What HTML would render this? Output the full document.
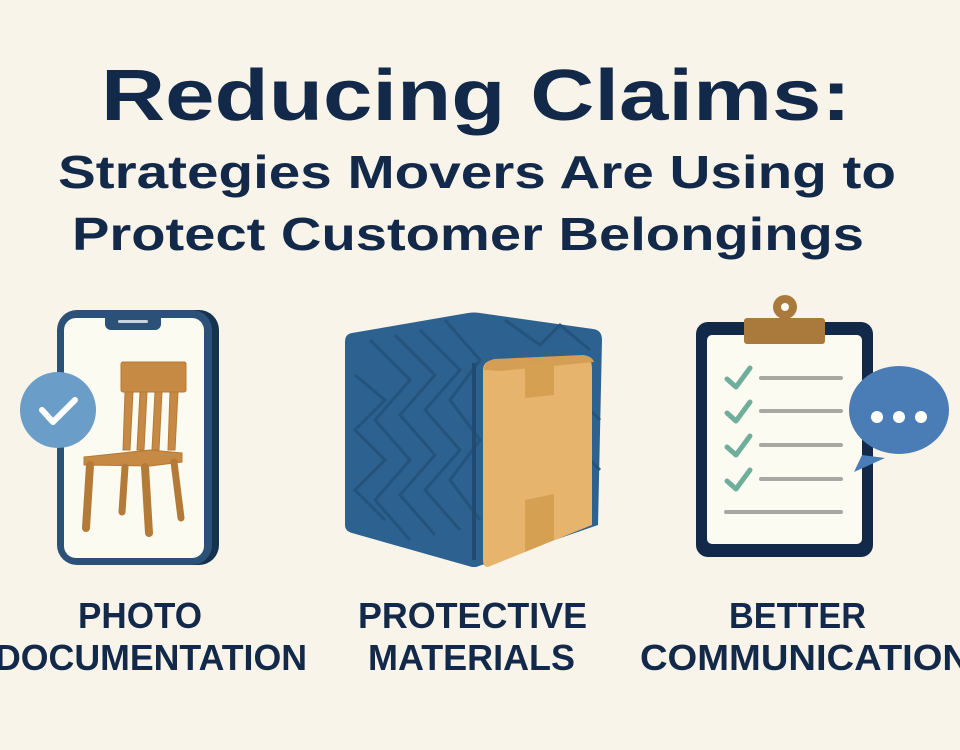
<!DOCTYPE html>
<html><head><meta charset="utf-8"><style>
html,body{margin:0;padding:0;background:#f8f4e9;}
svg{display:block;}
text{font-family:"Liberation Sans",sans-serif;font-weight:bold;fill:#13294a;}
</style></head><body>
<svg width="960" height="750" viewBox="0 0 960 750" xmlns="http://www.w3.org/2000/svg">
<rect width="960" height="750" fill="#f8f4e9"/>
<text x="101" y="120" font-size="72" textLength="750" lengthAdjust="spacingAndGlyphs">Reducing Claims:</text>
<text x="58" y="188" font-size="46" textLength="838" lengthAdjust="spacingAndGlyphs">Strategies Movers Are Using to</text>
<text x="72" y="250" font-size="46" textLength="792" lengthAdjust="spacingAndGlyphs">Protect Customer Belongings</text>

<!-- phone -->
<rect x="60" y="310" width="159" height="255" rx="20" fill="#15324f"/>
<rect x="57" y="310" width="155" height="255" rx="20" fill="#2b5178"/>
<rect x="64" y="318" width="140" height="240" rx="12" fill="#fcfbf1"/>
<path d="M105 318 h56 v6 a6 6 0 0 1 -6 6 h-44 a6 6 0 0 1 -6 -6z" fill="#2b5178"/>
<rect x="118" y="320" width="30" height="3" rx="1.5" fill="#c9d2dc"/>
<!-- chair -->
<g fill="#c68a45" stroke="#b47a38" stroke-width="1">
<rect x="121" y="362" width="65" height="30" rx="2"/>
<polygon points="125,392 133,392 130,450 123,450"/>
<polygon points="140,392 147,392 144,450 137,450"/>
<polygon points="155,392 162,392 159,450 152,450"/>
<polygon points="170,392 178,392 175,450 168,450"/>
<polygon points="84,457 150,450 182,453 182,462 150,466 84,465"/>
<path d="M90 465 L86 528" stroke="#b47a38" stroke-width="8" stroke-linecap="round"/>
<path d="M125 467 L122 512" stroke="#b47a38" stroke-width="7" stroke-linecap="round"/>
<path d="M145 467 L149 533" stroke="#b47a38" stroke-width="8" stroke-linecap="round"/>
<path d="M174 462 L181 518" stroke="#b47a38" stroke-width="7" stroke-linecap="round"/>
</g>
<circle cx="58" cy="410" r="38" fill="#6a9dc8"/>
<path d="M42 410 L53 422 L75 400" fill="none" stroke="#fff" stroke-width="6" stroke-linecap="round" stroke-linejoin="round"/>

<!-- blanket box -->
<path d="M352 333 Q345 334 345 342 L345 525 Q345 531 352 533 L472 567 L476 567 L598 525 L602 340 Q602 330 593 329 L480 313 Q474 312 468 313 Z" fill="#2d6290"/>
<g fill="none" stroke="#24527c" stroke-width="3" opacity="0.9">
<path d="M355 375 L385 400 L355 430 L385 460 L355 490 L385 520"/>
<path d="M370 340 L410 380 L375 420 L410 460 L375 500 L410 540"/>
<path d="M395 335 L435 375 L400 415 L435 455 L400 495 L435 535"/>
<path d="M420 330 L460 370 L425 410 L460 450 L425 490 L460 530"/>
<path d="M445 320 L480 360 L450 400 L480 440 L450 480 L480 520"/>
<path d="M505 320 L540 345 L560 325 L590 350"/>
<path d="M580 400 L600 420 M580 450 L600 470"/>
</g>
<path d="M474 363 L474 560" stroke="#1f4a72" stroke-width="4"/>
<path d="M483 370 Q483 362 492 360 L580 356 Q592 356 592 368 L592 525 L488 567 Q483 567 483 560 Z" fill="#e6b46d"/>
<path d="M484 370 Q484 362 494 359 L583 355 Q592 356 594 362 L500 371 Z" fill="#d49f55"/>
<polygon points="525,365 554,361 554,395 525,398" fill="#d6a053"/>
<polygon points="525,500 554,494 554,540 525,552" fill="#d6a053"/>

<!-- clipboard -->
<rect x="696" y="322" width="177" height="235" rx="12" fill="#13294a"/>
<rect x="707" y="335" width="155" height="209" rx="5" fill="#fcfbf1"/>
<circle cx="785" cy="307" r="12" fill="#a97a3c"/>
<circle cx="785" cy="307" r="4" fill="#fcfbf1"/>
<rect x="744" y="318" width="81" height="26" rx="3" fill="#a97a3c"/>
<g fill="none" stroke="#6fae9b" stroke-width="5" stroke-linecap="round" stroke-linejoin="round">
<path d="M727 379 L736 387 L750 368"/>
<path d="M727 413 L736 421 L750 402"/>
<path d="M727 447 L736 455 L750 436"/>
<path d="M727 481 L736 489 L750 470"/>
</g>
<g stroke="#a8a8a2" stroke-width="4" stroke-linecap="round">
<path d="M761 378 H841"/><path d="M761 411 H841"/><path d="M761 445 H841"/><path d="M761 479 H841"/><path d="M726 512 H841"/>
</g>
<path d="M862 455 L854 472 L885 458 Z" fill="#4a7db5"/>
<ellipse cx="899" cy="410" rx="50" ry="44" fill="#4a7db5"/>
<circle cx="877" cy="417" r="6" fill="#fff"/><circle cx="899" cy="417" r="6" fill="#fff"/><circle cx="921" cy="417" r="6" fill="#fff"/>

<!-- labels -->
<text x="78" y="628" font-size="36" textLength="124" lengthAdjust="spacingAndGlyphs">PHOTO</text>
<text x="-5" y="670" font-size="36" textLength="312" lengthAdjust="spacingAndGlyphs">DOCUMENTATION</text>
<text x="358" y="628" font-size="36" textLength="229" lengthAdjust="spacingAndGlyphs">PROTECTIVE</text>
<text x="368" y="670" font-size="36" textLength="207" lengthAdjust="spacingAndGlyphs">MATERIALS</text>
<text x="729" y="628" font-size="36" textLength="137" lengthAdjust="spacingAndGlyphs">BETTER</text>
<text x="640" y="670" font-size="36" textLength="330" lengthAdjust="spacingAndGlyphs">COMMUNICATION</text>
</svg>
</body></html>
